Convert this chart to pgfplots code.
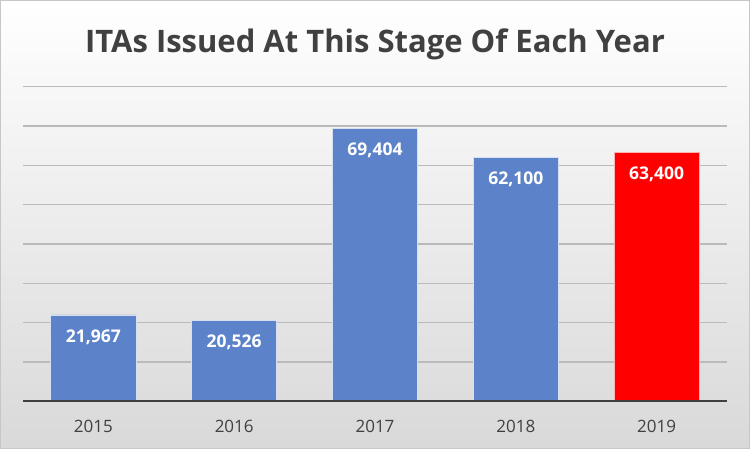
\documentclass[border=0pt]{standalone}
\usepackage{pgfplots}
\pgfplotsset{compat=1.18}
\usepackage{fontspec}
\setmainfont{Open Sans}
\definecolor{barblue}{RGB}{92,131,201}
\definecolor{barred}{RGB}{255,0,0}
\definecolor{txt}{RGB}{64,64,64}
\begin{document}
\begin{tikzpicture}[x=1pt,y=1pt]
\shade[shading angle=-55, top color=white, bottom color=black!15] (0,0) rectangle (750,449);
\draw[black!22, line width=1pt] (0.5,0.5) rectangle (749.5,448.5);
\node[anchor=base, text=txt, font=\fontsize{31}{36}\selectfont\bfseries, inner sep=0pt] at (375,396.7) {ITAs Issued At This Stage Of Each Year};
\begin{axis}[
  at={(23pt,47.7pt)}, anchor=south west,
  scale only axis, width=704pt, height=314.6pt,
  ymin=0, ymax=80000, xmin=-0.5, xmax=4.5,
  ybar, bar width=85pt, bar shift=0pt,
  axis line style={draw=none},
  scaled y ticks=false,
  ytick={10000,20000,...,80000}, yticklabels={},
  ymajorgrids, grid style={black!27, line width=1.2pt},
  xtick={0,1,2,3,4}, xticklabels={2015,2016,2017,2018,2019},
  major tick length=0pt,
  xticklabel style={anchor=center, yshift=-24.7pt, text=txt, font=\fontsize{17}{20}\selectfont},
  nodes near coords={\pgfmathprintnumber[fixed, precision=0, 1000 sep={,}, assume math mode=true]{\pgfplotspointmeta}},
  nodes near coords style={anchor=center, yshift=-22pt, text=white, font=\fontsize{17.5}{20}\selectfont\bfseries},
  clip=false,
]
\addplot[fill=barblue, draw=white!75!barblue, line width=0.8pt] coordinates {(0,21967) (1,20526) (2,69404) (3,62100)};
\addplot[fill=barred, draw=white!70!barred, line width=0.8pt] coordinates {(4,63400)};
\draw[txt, line width=2.2pt] (axis cs:-0.5,0) -- (axis cs:4.5,0);
\end{axis}
\end{tikzpicture}
\end{document}
